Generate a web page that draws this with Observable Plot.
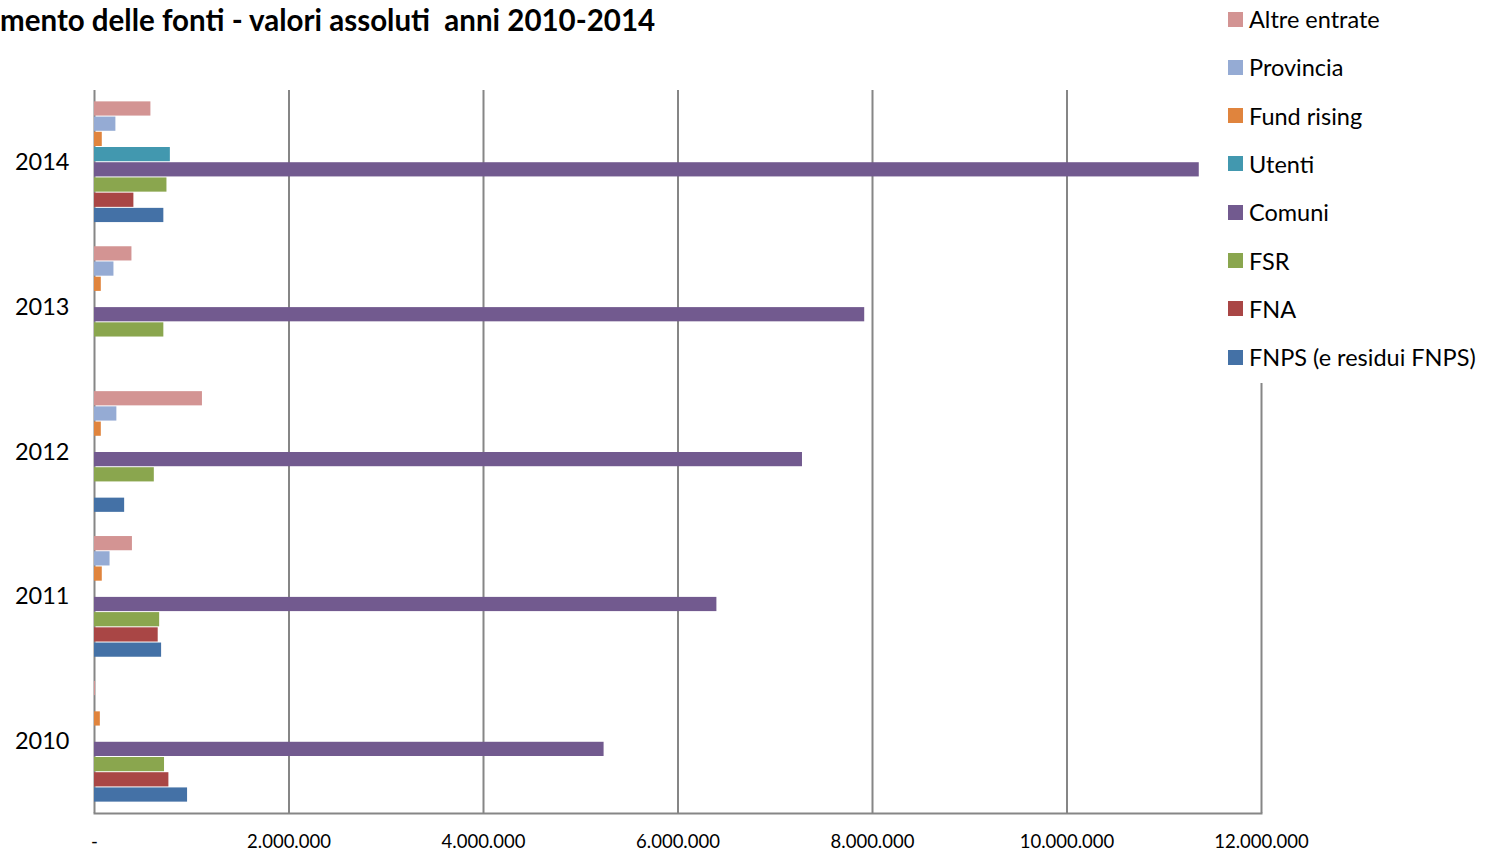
<!DOCTYPE html>
<html><head><meta charset="utf-8">
<script src="https://cdn.jsdelivr.net/npm/d3@7"></script>
<script src="https://cdn.jsdelivr.net/npm/@observablehq/plot@0.6"></script>
<style>
body{margin:0;background:#fff;font-family:Lato,"Open Sans",sans-serif;}
#wrap{position:relative;width:1487px;height:856px;overflow:hidden;}
#title{position:absolute;left:0;top:2px;font-size:29.5px;font-weight:bold;color:#000;white-space:pre;z-index:3;}
#legend{position:absolute;left:1200px;top:0;width:287px;height:383px;background:#fff;z-index:2;}
.li{position:absolute;left:28px;display:flex;align-items:center;font-size:23.5px;color:#000;white-space:nowrap;}
.sw{width:15px;height:15px;margin-right:6px;}
.layer{position:absolute;left:0;top:0;}
</style></head>
<body>
<div id="wrap">
<div id="title">mento delle fonti - valori assoluti  anni 2010-2014</div>
<div id="grid" class="layer"></div>
<div id="chart" class="layer"></div>
<div id="legend"></div>
</div>
<script>
const years = ["2010","2011","2012","2013","2014"];
const series = ["Altre entrate","Provincia","Fund rising","Utenti","Comuni","FSR","FNA","FNPS (e residui FNPS)"];
const colors = ["#D39493","#95ABD4","#E0843D","#4298AF","#725A8F","#8AA64E","#A94645","#4471A6"];
// values per series, in order of years 2010..2014 (null = no bar)
const altreEntrate = [10000, 390000, 1110000, 385000, 580000];
const provincia    = [null, 160000, 230000, 200000, 220000];
const fundRising   = [60000, 80000, 70000, 70000, 80000];
const utenti       = [null, null, null, null, 780000];
const comuni       = [5240000, 6400000, 7280000, 7920000, 11360000];
const fsr          = [720000, 670000, 615000, 713000, 745000];
const fna          = [765000, 655000, null, null, 405000];
const fnps         = [957000, 690000, 310000, null, 713000];
const xTicks = [0, 2000000, 4000000, 6000000, 8000000, 10000000, 12000000];

const valueSets = [altreEntrate, provincia, fundRising, utenti, comuni, fsr, fna, fnps];
const rows = [];
series.forEach((s, i) => years.forEach((y, j) => {
  const v = valueSets[i][j];
  if (v != null) rows.push({year: y, series: s, value: v});
}));

const fmt = d => d === 0 ? "-" : d3.format(",")(d).replace(/,/g, ".");
const common = {
  width: 1487, height: 856,
  marginLeft: 94, marginRight: 226, marginTop: 90, marginBottom: 43,
  style: {fontFamily: "Lato, 'Open Sans', sans-serif", background: "transparent", overflow: "visible"}
};

// background layer: vertical gridlines, bottom axis line and x tick labels
const gridPlot = Plot.plot({
  ...common,
  x: {domain: [0, 12000000], ticks: xTicks, tickFormat: fmt, tickSize: 0, tickPadding: 21, label: null},
  marks: [
    Plot.ruleX(xTicks, {stroke: "#868686", strokeWidth: 2}),
    Plot.frame({anchor: "bottom", stroke: "#868686", strokeWidth: 2})
  ]
});
gridPlot.querySelectorAll("g[aria-label='x-axis tick label'] text").forEach(t => t.setAttribute("font-size", 18.5));
document.getElementById("grid").appendChild(gridPlot);

// foreground layer: grouped bars faceted by year
const chart = Plot.plot({
  ...common,
  x: {domain: [0, 12000000], axis: null},
  y: {domain: series, axis: null, padding: 0, round: false},
  fy: {domain: years.slice().reverse(), paddingInner: 0.16, paddingOuter: 0.075, round: false, label: null, tickSize: 0, tickPadding: 25, axis: "left"},
  color: {domain: series, range: colors},
  marks: [
    Plot.barX(rows, {x: "value", y: "series", fy: "year", fill: "series", insetTop: 0.5, insetBottom: 0.5})
  ]
});
chart.querySelectorAll("g[aria-label='fy-axis tick label'] text").forEach(t => t.setAttribute("font-size", 23.5));
document.getElementById("chart").appendChild(chart);

const leg = document.getElementById("legend");
series.forEach((s, i) => {
  const d = document.createElement("div");
  d.className = "li";
  d.style.top = (5 + i * 48.3) + "px";
  d.innerHTML = `<span class="sw" style="background:${colors[i]}"></span><span>${s}</span>`;
  leg.appendChild(d);
});
</script>
</body></html>
